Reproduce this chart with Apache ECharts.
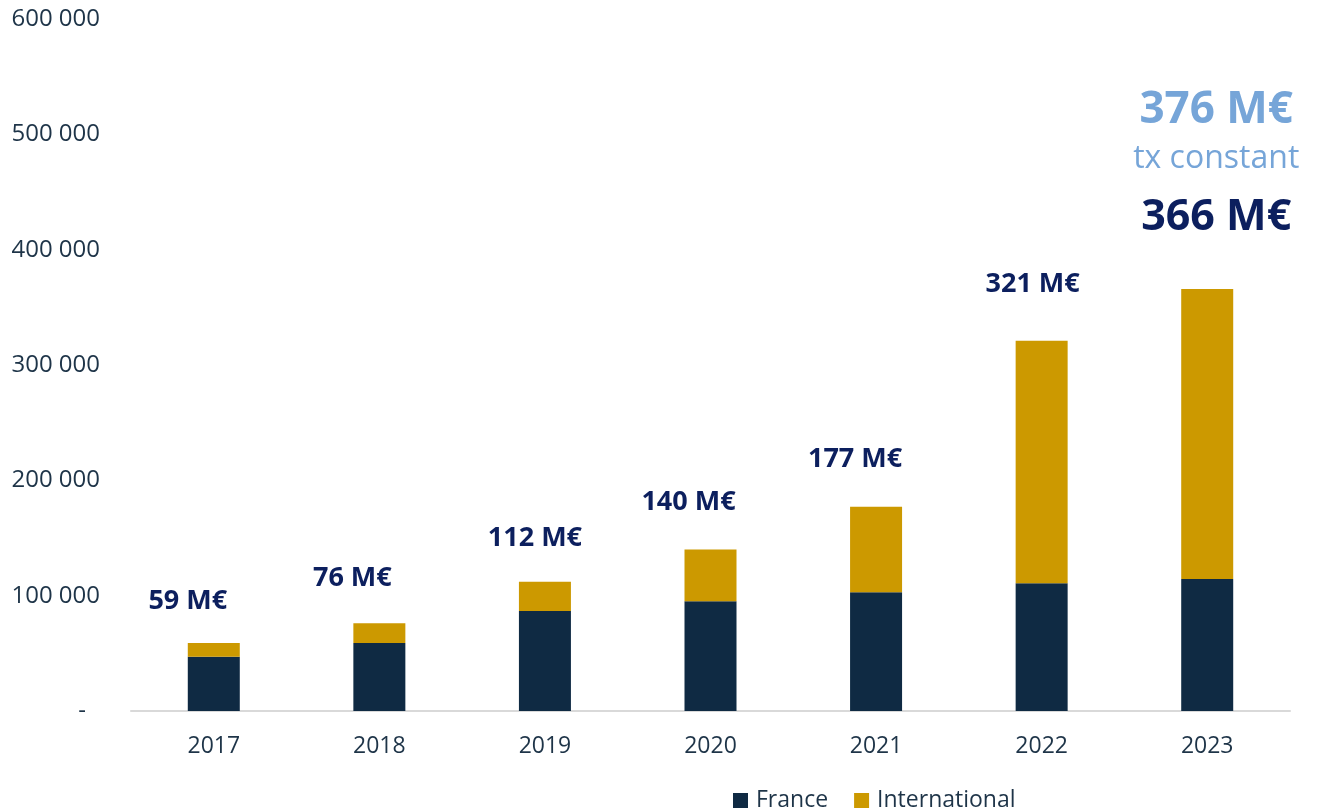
<!DOCTYPE html>
<html><head><meta charset="utf-8">
<script src="https://cdn.jsdelivr.net/npm/echarts@6/dist/echarts.min.js"></script>
<style>html,body{margin:0;padding:0;background:#fff}#c{width:1319px;height:810px}</style>
</head><body><div id="c"></div>
<script>
const years = ['2017','2018','2019','2020','2021','2022','2023'];
const france = [47000, 58900, 86600, 95200, 103000, 110800, 114500];
const international = [12000, 17100, 25400, 44800, 74000, 210200, 251500];
const constantRateTotal = 376; // M€, "tx constant"
const constantRateText = 'tx constant';
const yTicks = [0, 100000, 200000, 300000, 400000, 500000, 600000];

// label layout (not data)
const labelDx = [-26, -27, -10, -22, -21, -9, 9];
const labelGap = [42, 45, 44, 47, 48, 56, 0];

const FONT = '"Open Sans", "Noto Sans", sans-serif';
const navy = '#0f2a43', gold = '#cc9900', labelNavy = '#0c1f5e', lightBlue = '#76a5d8';

function fmt(v){ if(v===0) return '{z|-}'; return String(v).replace(/\B(?=(\d{3})+(?!\d))/g,' '); }

const intlData = international.map((v,i)=>{
  const total = Math.round((france[i]+v)/1000);
  const last = i === years.length-1;
  return {
    value: v,
    label: last ? {
      show:true, position:'top', distance:41, offset:[labelDx[i],0],
      formatter: '{a|' + constantRateTotal + ' M€}\n{b|' + constantRateText + '}\n{c|' + total + ' M€}',
      rich:{
        a:{fontFamily:FONT,fontWeight:'bold',fontSize:44,color:lightBlue,lineHeight:38,align:'center'},
        b:{fontFamily:FONT,fontSize:32,color:lightBlue,lineHeight:58,align:'center'},
        c:{fontFamily:FONT,fontWeight:'bold',fontSize:43,color:labelNavy,lineHeight:60,align:'center'}
      }
    } : {
      show:true, position:'top', distance:0, offset:[labelDx[i], -(labelGap[i]-15)],
      formatter: total + ' M€',
      fontFamily:FONT, fontWeight:'bold', fontSize:27, lineHeight:30, color:labelNavy
    }
  };
});

const chart = echarts.init(document.getElementById('c'), null, {renderer:'canvas'});
chart.setOption({
  animation:false,
  grid:{left:131, right:29, top:19, bottom:99, containLabel:false},
  legend:{
    left:728, top:784, itemWidth:15, itemHeight:15, itemGap:26, icon:'rect',
    textStyle:{fontFamily:FONT, fontSize:23, color:'#1e3448', padding:[0,0,0,3]},
    data:['France','International']
  },
  xAxis:{
    type:'category', data:years,
    axisLine:{show:true, lineStyle:{color:'#d9d9d9', width:2}},
    axisTick:{show:false},
    axisLabel:{fontFamily:FONT, fontSize:23, color:'#1e3448', margin:24}
  },
  yAxis:{
    type:'value', min:0, max:600000, interval:100000,
    splitLine:{show:false}, axisLine:{show:false}, axisTick:{show:false},
    axisLabel:{fontFamily:FONT, fontSize:24, color:'#1e3448', align:'right', margin:31,
      formatter: fmt, rich:{z:{fontFamily:FONT,fontSize:24,color:'#1e3448',padding:[0,14,0,0]}}}
  },
  series:[
    {name:'France', type:'bar', stack:'t', data:france, barWidth:52, itemStyle:{color:navy}},
    {name:'International', type:'bar', stack:'t', data:intlData, barWidth:52, itemStyle:{color:gold}}
  ]
});
</script></body></html>
